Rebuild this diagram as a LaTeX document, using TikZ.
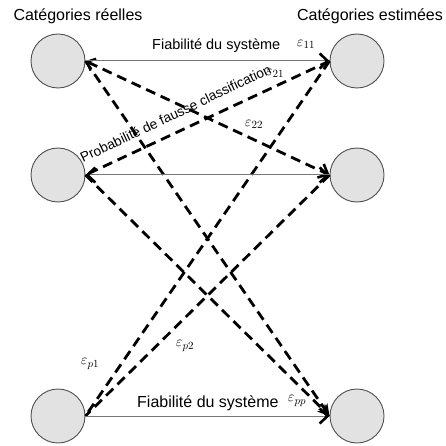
\documentclass[tikz,border=0pt]{standalone}
\usepackage{fontspec}
\setmainfont{Liberation Sans}
\usepackage{amsmath}
\usetikzlibrary{
    arrows.meta
}
\definecolor{CatFill}{RGB}{226,226,226}
\definecolor{CatEdge}{RGB}{80,80,80}
\definecolor{LineGray}{RGB}{120,120,120}
\tikzset{
  cat/.style   = {circle, draw=CatEdge, fill=CatFill, line width=0.9pt,
                  minimum size=54pt, inner sep=0pt},
  hdr/.style   = {font=\fontsize{16}{19}\selectfont, inner sep=0pt},
  eps/.style   = {font=\fontsize{15}{17}\selectfont, inner sep=0pt},
  barb/.style  = {-{Straight Barb[length=8pt,width=15pt,line width=2.6pt,color=black]}},
  arrs/.style  = {draw=LineGray, line width=1pt},
  arrd/.style  = {black, line width=2.8pt, dash pattern=on 10pt off 6pt}
}

\begin{document}
\begin{tikzpicture}[x=1pt,y=-1pt]
\useasboundingbox (0,0) rectangle (445,446);
% categories
\node[cat] (reel1) at (58,61) {};
\node[cat] (reel2) at (58,175) {};
\node[cat] (reel3) at (58,416) {};
\node[cat] (est1) at (357,61) {};
\node[cat] (est2) at (357,175) {};
\node[cat] (est3) at (357,416) {};
\node[hdr] (reelles) at (78,16) {Catégories réelles};
\node[hdr] (estimees) at (370,16) {Catégories estimées};
% dashed links
\draw[arrd, {Straight Barb[length=7pt,width=13pt,line width=2.4pt]}-{Straight Barb[length=8pt,width=15pt,line width=2.6pt]}]
      (reel1.east) -- (est2.west);
\draw[arrd, -{Stealth[length=12pt,width=11pt]}] (reel1.east) -- (est3.west);
\draw[arrd] (est1.west) -- (reel2.east);
\draw[arrd] (est1.west) -- (reel3.east);
\draw[arrd, -{Stealth[length=12pt,width=11pt]}] (reel2.east) -- (est3.west);
\draw[arrd] (est2.west) -- (reel3.east);
% solid links
\draw[arrs, barb] (reel1) -- (est1);
\draw[arrs, barb] (reel2) -- (est2);
\draw[arrs, {Straight Barb[length=8pt,width=15pt,line width=2.6pt,color=black]}-] (reel2) -- (est2);
\draw[arrs, barb] (reel3) -- (est3);
% labels
\node[font=\fontsize{14.5}{17}\selectfont, anchor=base west, inner sep=0pt] (fiab1) at (152,50) {Fiabilité du système};
\node[font=\fontsize{16}{19}\selectfont, anchor=base west, inner sep=0pt] (fiab3) at (137,407) {Fiabilité du système};
\node[font=\fontsize{13.7}{16}\selectfont, anchor=base west, inner sep=0pt, rotate=25.5] (proba) at (83,163)
      {Probabilité de fausse classification};
\node[eps] (e11) at (306,44) {$\varepsilon_{11}$};
\node[eps] (e21) at (275,73) {$\varepsilon_{21}$};
\node[eps] (e22) at (254,124) {$\varepsilon_{22}$};
\node[eps] (ep1) at (90,364) {$\varepsilon_{p1}$};
\node[eps] (ep2) at (185,346) {$\varepsilon_{p2}$};
\node[eps] (epp) at (297,401) {$\varepsilon_{pp}$};
\end{tikzpicture}
\end{document}
